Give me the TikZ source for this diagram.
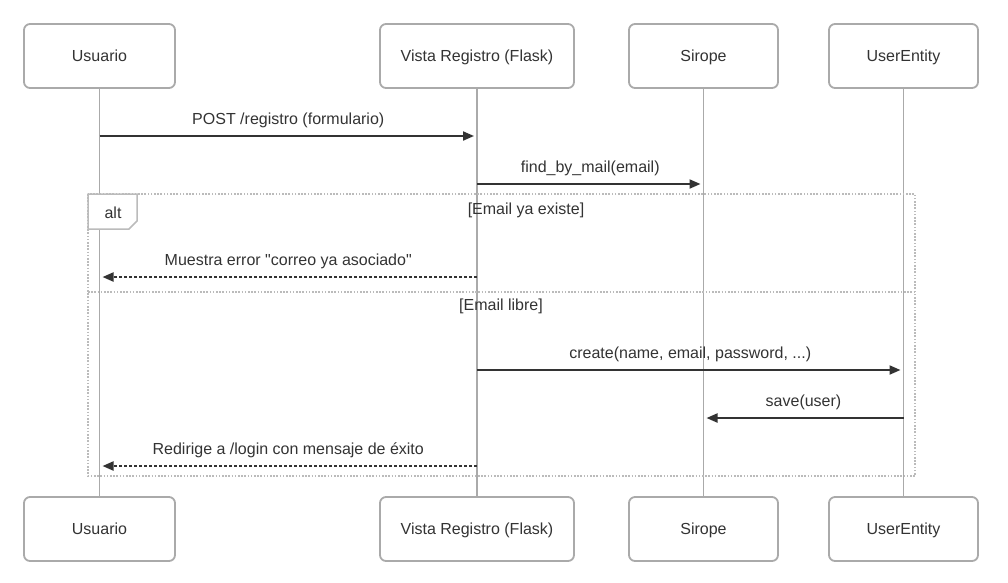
\documentclass[tikz,border=0pt]{standalone}
\usepackage{fontspec}
\setmainfont{Liberation Sans}[Ligatures=TeXOff]
\usetikzlibrary{arrows.meta, positioning}

\definecolor{boxline}{HTML}{AAAAAA}
\definecolor{msgline}{HTML}{333333}
\definecolor{frameline}{HTML}{BBBBBB}

\begin{document}
\begin{tikzpicture}[
        x = 1pt, y = -1pt,
        >= {Triangle[length = 11pt, width = 9pt]},
        font = \fontsize{16}{19}\selectfont,
        actor/.style = {draw = boxline, line width = 1.8pt, rounded corners = 6pt,
                        fill = white, text = msgline, minimum height = 64pt, inner sep = 0pt,
                        text height = 14pt, text depth = 3pt},
        lifeline/.style = {draw = boxline, line width = 1.8pt},
        msg/.style = {draw = msgline, line width = 2pt, ->, shorten >= 3pt},
        reply/.style = {msg, dash pattern = on 3pt off 2pt},
        frame/.style = {draw = frameline, line width = 1.8pt, dash pattern = on 1.6pt off 1.6pt},
        msglabel/.style = {text = msgline, inner sep = 0pt, text height = 11pt, text depth = 4pt}
    ]

      \useasboundingbox (0,0) rectangle (1008,582);

      % participants
      \node[actor, minimum width = 151pt] (uTop) at (99.5, 56) {Usuario};
      \node[actor, minimum width = 194pt] (vTop) at (477, 56) {Vista Registro (Flask)};
      \node[actor, minimum width = 149pt] (sTop) at (703.5, 56) {Sirope};
      \node[actor, minimum width = 149pt] (eTop) at (903.5, 56) {UserEntity};

      \node[actor, minimum width = 151pt] (uBot) at (99.5, 529) {Usuario};
      \node[actor, minimum width = 194pt] (vBot) at (477, 529) {Vista Registro (Flask)};
      \node[actor, minimum width = 149pt] (sBot) at (703.5, 529) {Sirope};
      \node[actor, minimum width = 149pt] (eBot) at (903.5, 529) {UserEntity};

      % lifelines
      \draw[lifeline] (uTop) -- (uBot);
      \draw[lifeline] (vTop) -- (vBot);
      \draw[lifeline] (sTop) -- (sBot);
      \draw[lifeline] (eTop) -- (eBot);

      % alt block
      \draw[frame] (88,194) rectangle (915,476);
      \draw[frame] (88,292) -- (915,292);
      \draw[draw = frameline, line width = 1.5pt, fill = white]
            (88,194) -- (137,194) -- (137,221) -- (129,229) -- (88,229) -- cycle;
      \node[text = msgline] (altTag) at (113,213) {alt};
      \node[text = msgline] (guardA) at (526,210) {[Email ya existe]};
      \node[text = msgline] (guardB) at (501,306) {[Email libre]};

      % message ends
      \coordinate (postU) at (uTop |- 0,136);   \coordinate (postV) at (vTop |- 0,136);
      \coordinate (findV) at (vTop |- 0,184);   \coordinate (findS) at (sTop |- 0,184);
      \coordinate (errV)  at (vTop |- 0,277);   \coordinate (errU)  at (uTop |- 0,277);
      \coordinate (newV)  at (vTop |- 0,370);   \coordinate (newE)  at (eTop |- 0,370);
      \coordinate (saveE) at (eTop |- 0,418);   \coordinate (saveS) at (sTop |- 0,418);
      \coordinate (okV)   at (vTop |- 0,466);   \coordinate (okU)   at (uTop |- 0,466);

      % messages
      \draw[msg] (postU) -- node[msglabel, above = 7pt] {POST /registro (formulario)} (postV);
      \draw[msg] (findV) -- node[msglabel, above = 7pt] {find\_by\_mail(email)} (findS);
      \draw[reply] (errV) -- node[msglabel, above = 7pt] {Muestra error "correo ya asociado"} (errU);
      \draw[msg] (newV) -- node[msglabel, above = 7pt] {create(name, email, password, ...)} (newE);
      \draw[msg] (saveE) -- node[msglabel, above = 7pt] {save(user)} (saveS);
      \draw[reply] (okV) -- node[msglabel, above = 7pt] {Redirige a /login con mensaje de éxito} (okU);

    \end{tikzpicture}
\end{document}
